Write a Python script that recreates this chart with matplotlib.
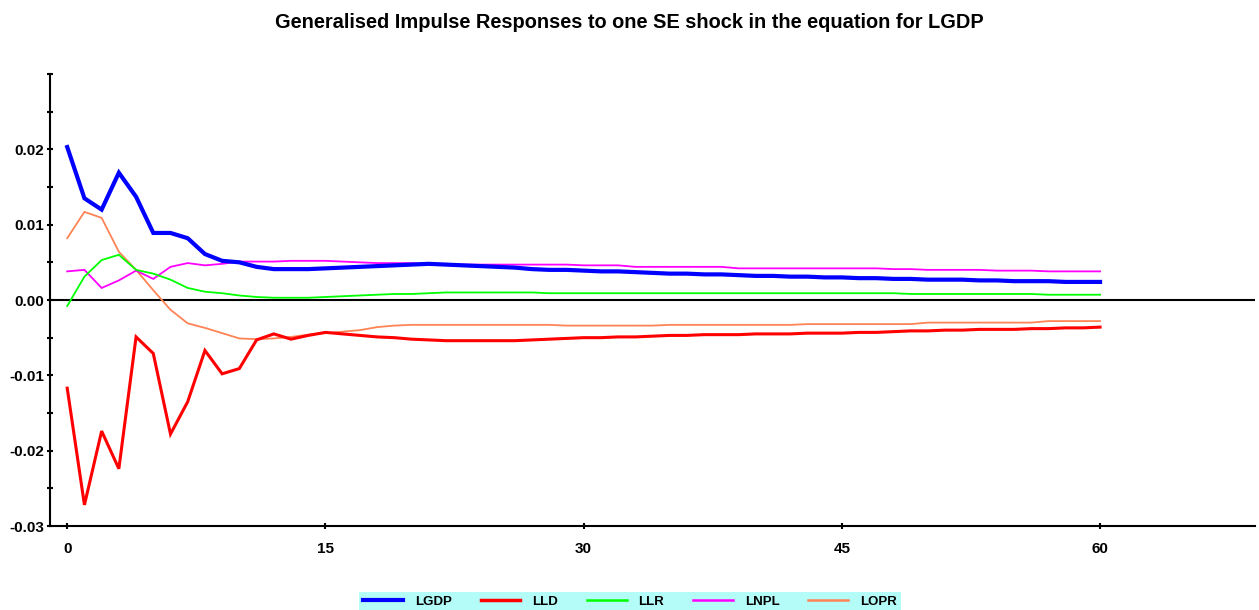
import matplotlib
matplotlib.use("Agg")
import matplotlib.pyplot as plt
from matplotlib.ticker import FormatStrFormatter

plt.rcParams['font.family'] = ['Liberation Sans', 'DejaVu Sans']
plt.rcParams['axes.unicode_minus'] = False

title = "Generalised Impulse Responses to one SE shock in the equation for LGDP"
horizon = list(range(61))
series_names = ["LGDP", "LLD", "LLR", "LNPL", "LOPR"]

lgdp = [0.0203, 0.0135, 0.0120, 0.0169, 0.0137, 0.0089, 0.0089, 0.0082, 0.0061, 0.0052,
        0.0050, 0.0044, 0.0041, 0.0041, 0.0041, 0.0042, 0.0043, 0.0044, 0.0045, 0.0046,
        0.0047, 0.0048, 0.0047, 0.0046, 0.0045, 0.0044, 0.0043, 0.0041, 0.0040, 0.0040,
        0.0039, 0.0038, 0.0038, 0.0037, 0.0036, 0.0035, 0.0035, 0.0034, 0.0034, 0.0033,
        0.0032, 0.0032, 0.0031, 0.0031, 0.0030, 0.0030, 0.0029, 0.0029, 0.0028, 0.0028,
        0.0027, 0.0027, 0.0027, 0.0026, 0.0026, 0.0025, 0.0025, 0.0025, 0.0024, 0.0024,
        0.0024]
lld = [-0.0117, -0.0272, -0.0174, -0.0224, -0.0049, -0.0071, -0.0178, -0.0135, -0.0067, -0.0098,
       -0.0091, -0.0053, -0.0045, -0.0052, -0.0047, -0.0043, -0.0045, -0.0047, -0.0049, -0.0050,
       -0.0052, -0.0053, -0.0054, -0.0054, -0.0054, -0.0054, -0.0054, -0.0053, -0.0052, -0.0051,
       -0.0050, -0.0050, -0.0049, -0.0049, -0.0048, -0.0047, -0.0047, -0.0046, -0.0046, -0.0046,
       -0.0045, -0.0045, -0.0045, -0.0044, -0.0044, -0.0044, -0.0043, -0.0043, -0.0042, -0.0041,
       -0.0041, -0.0040, -0.0040, -0.0039, -0.0039, -0.0039, -0.0038, -0.0038, -0.0037, -0.0037,
       -0.0036]
llr = [-0.0008, 0.0031, 0.0053, 0.0060, 0.0040, 0.0035, 0.0027, 0.0016, 0.0011, 0.0009,
       0.0006, 0.0004, 0.0003, 0.0003, 0.0003, 0.0004, 0.0005, 0.0006, 0.0007, 0.0008,
       0.0008, 0.0009, 0.0010, 0.0010, 0.0010, 0.0010, 0.0010, 0.0010, 0.0009, 0.0009,
       0.0009, 0.0009, 0.0009, 0.0009, 0.0009, 0.0009, 0.0009, 0.0009, 0.0009, 0.0009,
       0.0009, 0.0009, 0.0009, 0.0009, 0.0009, 0.0009, 0.0009, 0.0009, 0.0009, 0.0008,
       0.0008, 0.0008, 0.0008, 0.0008, 0.0008, 0.0008, 0.0008, 0.0007, 0.0007, 0.0007,
       0.0007]
lnpl = [0.0038, 0.0040, 0.0016, 0.0026, 0.0039, 0.0028, 0.0044, 0.0049, 0.0046, 0.0048,
        0.0051, 0.0051, 0.0051, 0.0052, 0.0052, 0.0052, 0.0051, 0.0050, 0.0049, 0.0049,
        0.0049, 0.0048, 0.0048, 0.0047, 0.0047, 0.0047, 0.0047, 0.0047, 0.0047, 0.0047,
        0.0046, 0.0046, 0.0046, 0.0044, 0.0044, 0.0044, 0.0044, 0.0044, 0.0044, 0.0042,
        0.0042, 0.0042, 0.0042, 0.0042, 0.0042, 0.0042, 0.0042, 0.0042, 0.0041, 0.0041,
        0.0040, 0.0040, 0.0040, 0.0040, 0.0039, 0.0039, 0.0039, 0.0038, 0.0038, 0.0038,
        0.0038]
lopr = [0.0082, 0.0117, 0.0109, 0.0064, 0.0040, 0.0013, -0.0013, -0.0031, -0.0037, -0.0044,
        -0.0051, -0.0052, -0.0051, -0.0049, -0.0046, -0.0044, -0.0042, -0.0040, -0.0036, -0.0034,
        -0.0033, -0.0033, -0.0033, -0.0033, -0.0033, -0.0033, -0.0033, -0.0033, -0.0033, -0.0034,
        -0.0034, -0.0034, -0.0034, -0.0034, -0.0034, -0.0033, -0.0033, -0.0033, -0.0033, -0.0033,
        -0.0033, -0.0033, -0.0033, -0.0032, -0.0032, -0.0032, -0.0032, -0.0032, -0.0032, -0.0032,
        -0.0030, -0.0030, -0.0030, -0.0030, -0.0030, -0.0030, -0.0030, -0.0028, -0.0028, -0.0028,
        -0.0028]

colors = {"LGDP": "#0000ff", "LLD": "#ff0000", "LLR": "#00ff00", "LNPL": "#ff00ff", "LOPR": "#ff8455"}
widths = {"LGDP": 3.0, "LLD": 2.2, "LLR": 1.3, "LNPL": 1.3, "LOPR": 1.3}
data = {"LGDP": lgdp, "LLD": lld, "LLR": llr, "LNPL": lnpl, "LOPR": lopr}

fig = plt.figure(figsize=(12.59, 6.10), dpi=100)
ax = fig.add_axes([50/1259, 1 - 526/610, (1255 - 50)/1259, (526 - 74)/610])

ax.axhline(0, color="black", lw=1.5, zorder=1)
handles = {}
for name in ["LOPR", "LNPL", "LLR", "LLD", "LGDP"]:
    h, = ax.plot(horizon, data[name], color=colors[name], lw=widths[name], zorder=2,
                 solid_joinstyle="miter")
    handles[name] = h

ax.set_xlim(-1, 69)
ax.set_ylim(-0.03, 0.03)
ax.set_xticks([0, 15, 30, 45, 60])
ax.yaxis.set_major_formatter(FormatStrFormatter("%.2f"))
ax.set_yticks([-0.03, -0.02, -0.01, 0.0, 0.01, 0.02])
ax.set_yticks([-0.025, -0.015, -0.005, 0.005, 0.015, 0.025, 0.03], minor=True)

for s in ["top", "right"]:
    ax.spines[s].set_visible(False)
for s in ["left", "bottom"]:
    ax.spines[s].set_linewidth(1.5)

ax.tick_params(axis="both", which="both", direction="inout", width=1.5, length=4.5,
               labelsize=11, labelcolor="black")
ax.tick_params(axis="y", which="major", pad=2)
ax.tick_params(axis="x", which="major", pad=9)
for lab in ax.get_xticklabels() + ax.get_yticklabels():
    lab.set_fontweight("bold")

fig.text(0.5, 1 - 22/610, title, ha="center", va="center", fontsize=14.4, fontweight="bold")

leg = fig.legend([handles[n] for n in series_names], series_names, loc="lower center",
                 bbox_to_anchor=(630/1259, -0.003), ncol=5, frameon=True, fancybox=False,
                 facecolor="#b4fcf8", edgecolor="none", framealpha=1.0,
                 fontsize=9.5, handlelength=3.0, handletextpad=0.9, columnspacing=2.2,
                 borderpad=0.3, borderaxespad=0.0)
for t in leg.get_texts():
    t.set_fontweight("bold")
for line, n in zip(leg.get_lines(), series_names):
    line.set_linewidth({"LGDP": 3.0, "LLD": 2.5}.get(n, 1.8))

fig.savefig("out.png", dpi=100)
